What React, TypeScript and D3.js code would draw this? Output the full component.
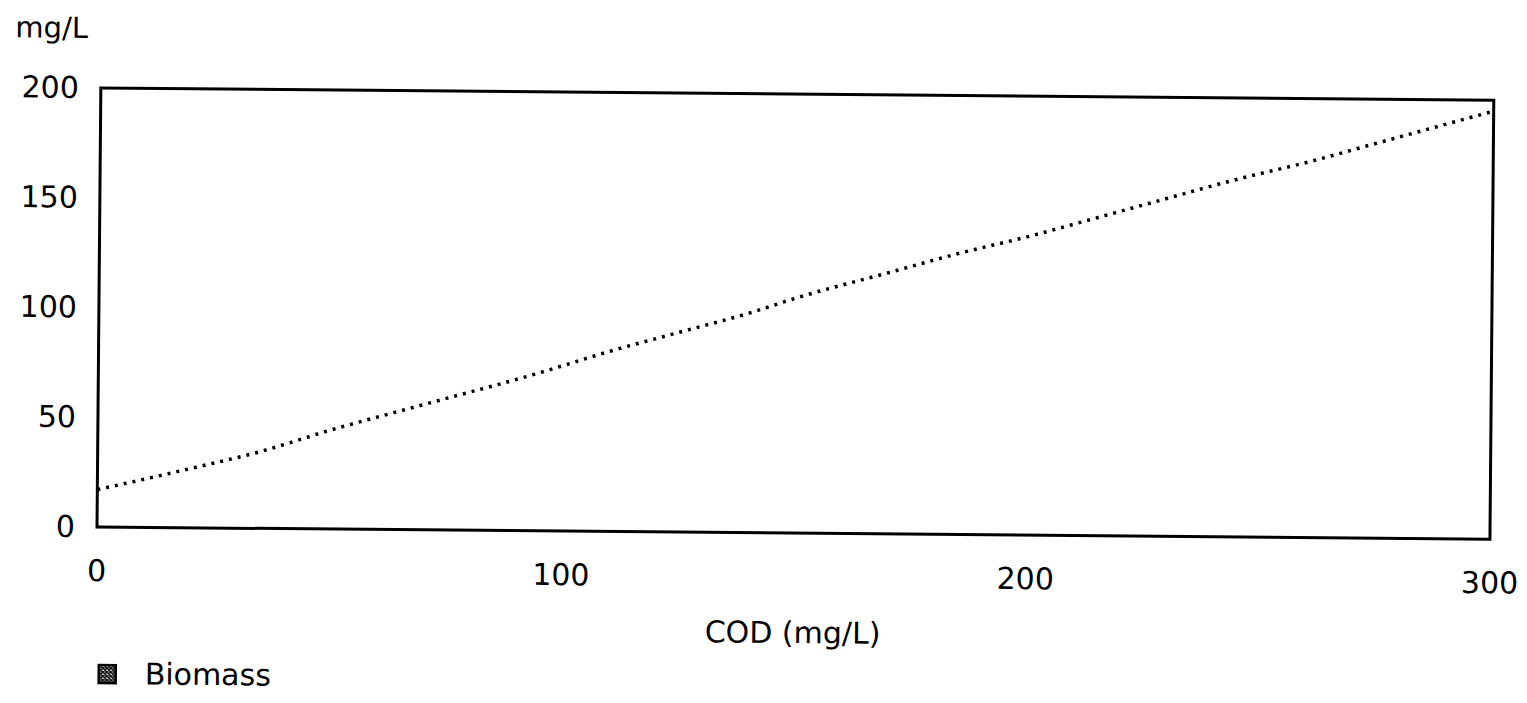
import React from 'react';
import * as d3 from 'd3';

// COD (mg/L) on x, biomass (mg/L) on y
const codValues = [0, 20, 35, 50, 70, 95, 110, 125, 140, 150, 170, 185, 200, 215, 225, 245, 260, 275, 290, 300];
const biomassValues = [17, 27, 35, 45, 57, 72, 82, 91, 100, 107, 119, 128, 136, 145, 151, 163, 171, 180, 189, 195];
const xTicks = [0, 100, 200, 300];
const yTicks = [0, 50, 100, 150, 200];
const legendLabel = 'Biomass';

const width = 1527;
const height = 703;
const margin = { top: 88, right: 37, bottom: 176, left: 97 };
const font = '"DejaVu Sans", sans-serif';

export default function App() {
    const innerW = width - margin.left - margin.right;
    const innerH = height - margin.top - margin.bottom;

    const x = d3.scaleLinear().domain([0, 300]).range([margin.left, margin.left + innerW]);
    const y = d3.scaleLinear().domain([0, 200]).range([margin.top + innerH, margin.top]);

    const points = codValues.map((c, i) => ({ c, b: biomassValues[i] }));
    const line = d3.line<{ c: number; b: number }>()
        .x(d => x(d.c))
        .y(d => y(d.b))
        .curve(d3.curveMonotoneX);

    // the scanned page is slightly tilted clockwise
    const tilt = `rotate(0.5, ${x(0)}, ${y(0)})`;

    return (
        <svg width={width} height={height} style={{ position: 'absolute', left: 0, top: 0, background: '#fff' }}>
            <defs>
                <pattern id="hatch" width="4" height="4" patternUnits="userSpaceOnUse">
                    <path d="M0,0 L4,4 M4,0 L0,4" stroke="#000" strokeWidth="1.5" />
                </pattern>
            </defs>
            <g transform={tilt} fontFamily={font} fill="#000">
                <text x={11} y={38} fontSize={29}>mg/L</text>

                <rect
                    x={x(0)}
                    y={y(200)}
                    width={x(300) - x(0)}
                    height={y(0) - y(200)}
                    fill="none"
                    stroke="#000"
                    strokeWidth={3}
                />

                {yTicks.map(t => (
                    <text key={t} x={75} y={y(t) + 10} fontSize={30} textAnchor="end">{t}</text>
                ))}
                {xTicks.map(t => (
                    <text key={t} x={x(t)} y={581} fontSize={30} textAnchor="middle">{t}</text>
                ))}

                <path
                    d={line(points) || ''}
                    fill="none"
                    stroke="#000"
                    strokeWidth={3.5}
                    strokeDasharray="3 6"
                />

                <text x={x(150)} y={637} fontSize={30} textAnchor="middle">COD (mg/L)</text>

                <rect x={100} y={665} width={17} height={18} fill="url(#hatch)" stroke="#000" strokeWidth={2.5} />
                <text x={146} y={684} fontSize={30}>{legendLabel}</text>
            </g>
        </svg>
    );
}
